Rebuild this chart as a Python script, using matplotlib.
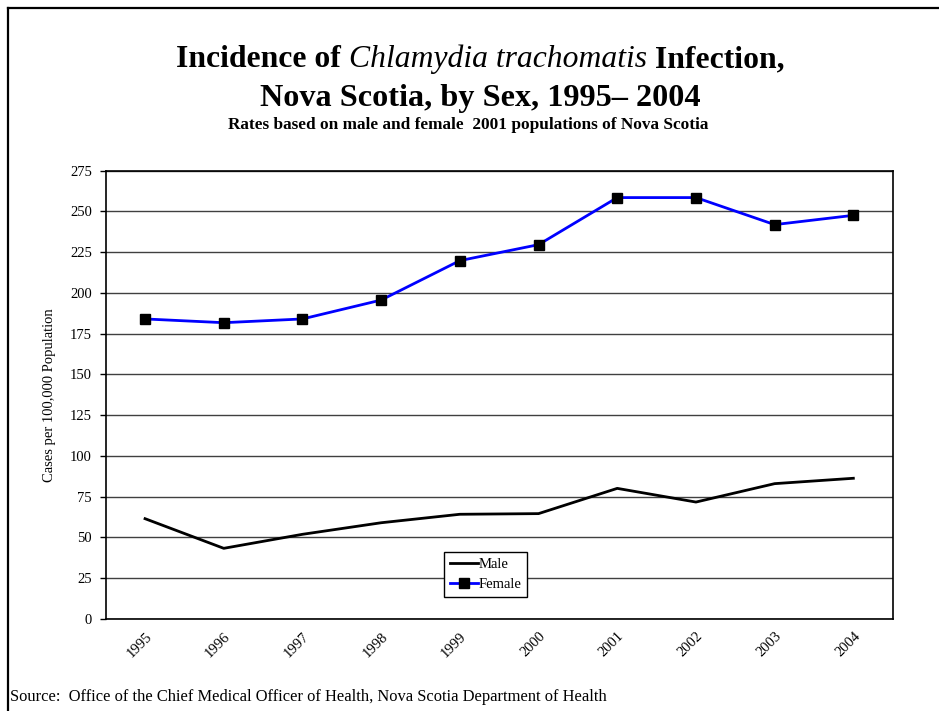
import matplotlib
matplotlib.use("Agg")
import matplotlib.pyplot as plt
from matplotlib.lines import Line2D

years = ["1995", "1996", "1997", "1998", "1999", "2000", "2001", "2002", "2003", "2004"]
male = [61.4, 43.2, 51.8, 58.9, 64.1, 64.5, 80.0, 71.6, 82.9, 86.2]
female = [184.0, 181.7, 184.0, 195.6, 219.8, 229.6, 258.5, 258.5, 241.9, 247.6]
yticks = [0, 25, 50, 75, 100, 125, 150, 175, 200, 225, 250, 275]

plt.rcParams['font.family'] = ['Liberation Serif', 'DejaVu Serif']

W, H = 939, 711
fig = plt.figure(figsize=(W / 100, H / 100), dpi=100)

# axes placement in pixels
left, right, top, bottom = 105.7, 892.7, 170.7, 618.7
ax = fig.add_axes([left / W, 1 - bottom / H, (right - left) / W, (bottom - top) / H])

x = list(range(len(years)))
ax.plot(x, male, color='black', lw=2.0, label='Male', zorder=3)
ax.plot(x, female, color='#0000ff', lw=2.0, marker='s', markersize=7.5,
        markerfacecolor='black', markeredgecolor='black', label='Female', zorder=4)

ax.set_xlim(-0.5, len(years) - 0.5)
ax.set_ylim(0, 275)
ax.set_yticks(yticks)
ax.set_yticklabels([str(v) for v in yticks], fontsize=10.5)
ax.set_xticks(x)
ax.set_xticklabels(years, fontsize=10.5, rotation=45, ha='right', va='top', rotation_mode='anchor')
ax.tick_params(axis='x', length=0, pad=8)
ax.tick_params(axis='y', length=4, width=1, direction='out', pad=6)
ax.yaxis.grid(True, color='#404040', lw=1.0)
ax.set_axisbelow(True)
for s in ax.spines.values():
    s.set_color('black')
    s.set_linewidth(1.2)
ax.set_ylabel('Cases per 100,000 Population', fontsize=10.5, labelpad=10)

leg = ax.legend(loc='lower left', bbox_to_anchor=((444 - left) / (right - left), (bottom - 597) / (bottom - top)),
                fontsize=10.5, frameon=True, fancybox=False, edgecolor='black', framealpha=1,
                handlelength=1.9, handletextpad=0.05, borderpad=0.4, labelspacing=0.45,
                borderaxespad=0, markerscale=0.9)
leg.get_frame().set_linewidth(1.0)

# Title, composed from bold and italic pieces
fig.canvas.draw()
renderer = fig.canvas.get_renderer()
tsize = 22.8
pieces = [("Incidence of ", dict(weight='bold', style='normal')),
          ("Chlamydia trachomatis", dict(weight='normal', style='italic')),
          (" Infection,", dict(weight='bold', style='normal'))]
texts = []
for s, kw in pieces:
    t = fig.text(0, 1 - 67 / H, s, fontsize=tsize, ha='left', va='baseline', **kw)
    texts.append(t)
widths = [t.get_window_extent(renderer).width for t in texts]
total = sum(widths)
cx = 480
xpos = cx - total / 2
for t, w in zip(texts, widths):
    t.set_x(xpos / W)
    xpos += w

fig.text(cx / W, 1 - 106 / H, "Nova Scotia, by Sex, 1995\u2013 2004", fontsize=23.2,
         weight='bold', ha='center', va='baseline')
fig.text(468 / W, 1 - 129 / H, "Rates based on male and female  2001 populations of Nova Scotia",
         fontsize=12.4, weight='bold', ha='center', va='baseline')
fig.text(10 / W, 1 - 701 / H, "Source:  Office of the Chief Medical Officer of Health, Nova Scotia Department of Health",
         fontsize=11.9, ha='left', va='baseline')

# partial figure frame (top and left)
fig.add_artist(Line2D([8 / W, 1], [1 - 8 / H, 1 - 8 / H], color='black', lw=1.6, transform=fig.transFigure))
fig.add_artist(Line2D([8 / W, 8 / W], [0, 1 - 8 / H], color='black', lw=1.6, transform=fig.transFigure))

fig.savefig('out.png', dpi=100, facecolor='white')
